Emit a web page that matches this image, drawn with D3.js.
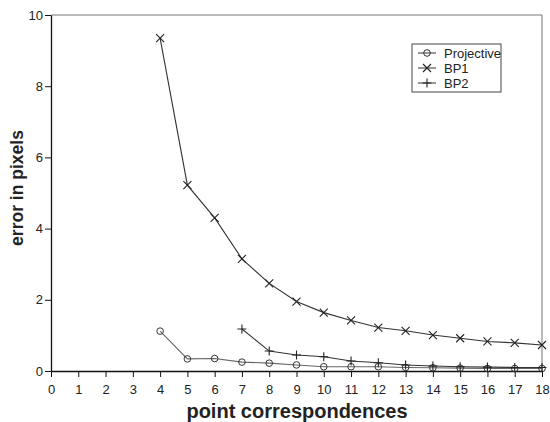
<!DOCTYPE html>
<html>
<head>
<meta charset="utf-8">
<script src="https://cdn.jsdelivr.net/npm/d3@7"></script>
<style>
  body { margin: 0; background: #fff; }
  text { font-family: "Liberation Sans", Arial, sans-serif; fill: #222; }
</style>
</head>
<body>
<div id="chart"></div>
<script>
var xTicks = d3.range(0, 19);
var yTicks = [0, 2, 4, 6, 8, 10];

var projX = [4, 5, 6, 7, 8, 9, 10, 11, 12, 13, 14, 15, 16, 17, 18];
var projY = [1.12, 0.34, 0.35, 0.25, 0.22, 0.17, 0.12, 0.12, 0.12, 0.10, 0.09, 0.08, 0.07, 0.07, 0.07];

var bp1X = [4, 5, 6, 7, 8, 9, 10, 11, 12, 13, 14, 15, 16, 17, 18];
var bp1Y = [9.35, 5.22, 4.30, 3.15, 2.46, 1.95, 1.64, 1.42, 1.22, 1.13, 1.01, 0.92, 0.83, 0.79, 0.73];

var bp2X = [7, 8, 9, 10, 11, 12, 13, 14, 15, 16, 17, 18];
var bp2Y = [1.18, 0.56, 0.45, 0.40, 0.28, 0.23, 0.17, 0.14, 0.12, 0.11, 0.10, 0.10];

var W = 550, H = 422;
var margin = {top: 15, right: 8, bottom: 51, left: 51};
var width = W - margin.left - margin.right,
    height = H - margin.top - margin.bottom;

var svg = d3.select("#chart").append("svg")
    .attr("width", W)
    .attr("height", H);

var g = svg.append("g")
    .attr("transform", "translate(" + margin.left + "," + margin.top + ")");

var x = d3.scaleLinear().domain([0, 18]).range([0, width]);
var y = d3.scaleLinear().domain([0, 10]).range([height, 0]);

// frame (top + right)
g.append("path")
    .attr("d", "M0,0H" + width + "V" + height)
    .attr("fill", "none")
    .attr("stroke", "#777")
    .attr("stroke-width", 1);

var xAxis = g.append("g")
    .attr("transform", "translate(0," + height + ")")
    .call(d3.axisBottom(x).tickValues(xTicks).tickSize(6).tickPadding(8).tickSizeOuter(0));
var yAxis = g.append("g")
    .call(d3.axisLeft(y).tickValues(yTicks).tickSize(6).tickPadding(2).tickSizeOuter(0));

[xAxis, yAxis].forEach(function(a) {
  a.select(".domain").attr("stroke", "#111").attr("stroke-width", 1.3);
  a.selectAll(".tick line").attr("stroke", "#111");
  a.selectAll(".tick text")
      .style("font-family", "'Liberation Sans', Arial, sans-serif")
      .style("font-size", "13px")
      .attr("fill", "#333");
});

svg.append("text")
    .attr("x", 297).attr("y", 418)
    .attr("text-anchor", "middle")
    .style("font-size", "20px").style("font-weight", "bold")
    .text("point correspondences");

svg.append("text")
    .attr("transform", "translate(23,188) rotate(-90)")
    .attr("text-anchor", "middle")
    .style("font-size", "17.5px").style("font-weight", "bold")
    .text("error in pixels");

var line = d3.line().x(function(d) { return x(d[0]); }).y(function(d) { return y(d[1]); });

function marker(sel, type) {
  if (type == "circle") {
    sel.append("circle").attr("r", 3.3).attr("fill", "none").attr("stroke", "#333").attr("stroke-width", 1);
  } else if (type == "x") {
    sel.append("path").attr("d", "M-4,-4L4,4M-4,4L4,-4").attr("stroke", "#222").attr("stroke-width", 1.1);
  } else {
    sel.append("path").attr("d", "M-4.5,0H4.5M0,-4.5V4.5").attr("stroke", "#222").attr("stroke-width", 1.1);
  }
}

var series = [
  {name: "Projective", xs: projX, ys: projY, m: "circle", color: "#666"},
  {name: "BP1", xs: bp1X, ys: bp1Y, m: "x", color: "#333"},
  {name: "BP2", xs: bp2X, ys: bp2Y, m: "plus", color: "#333"}
];

series.forEach(function(s) {
  var pts = s.xs.map(function(v, i) { return [v, s.ys[i]]; });
  g.append("path")
      .attr("d", line(pts))
      .attr("fill", "none")
      .attr("stroke", s.color)
      .attr("stroke-width", 1.1);
  g.selectAll(null).data(pts).enter().append("g")
      .attr("transform", function(d) { return "translate(" + x(d[0]) + "," + y(d[1]) + ")"; })
      .each(function() { marker(d3.select(this), s.m); });
});

// legend
var lg = svg.append("g").attr("transform", "translate(412,44)");
lg.append("rect").attr("width", 89).attr("height", 48)
    .attr("fill", "#fff").attr("stroke", "#444").attr("stroke-width", 1);
series.forEach(function(s, i) {
  var row = lg.append("g").attr("transform", "translate(0," + (9 + i * 15) + ")");
  row.append("line").attr("x1", 6).attr("x2", 24).attr("stroke", "#333").attr("stroke-width", 1);
  marker(row.append("g").attr("transform", "translate(15,0)"), s.m);
  row.append("text").attr("x", 32).attr("y", 4.5)
      .style("font-size", "13px").text(s.name);
});
</script>
</body>
</html>
